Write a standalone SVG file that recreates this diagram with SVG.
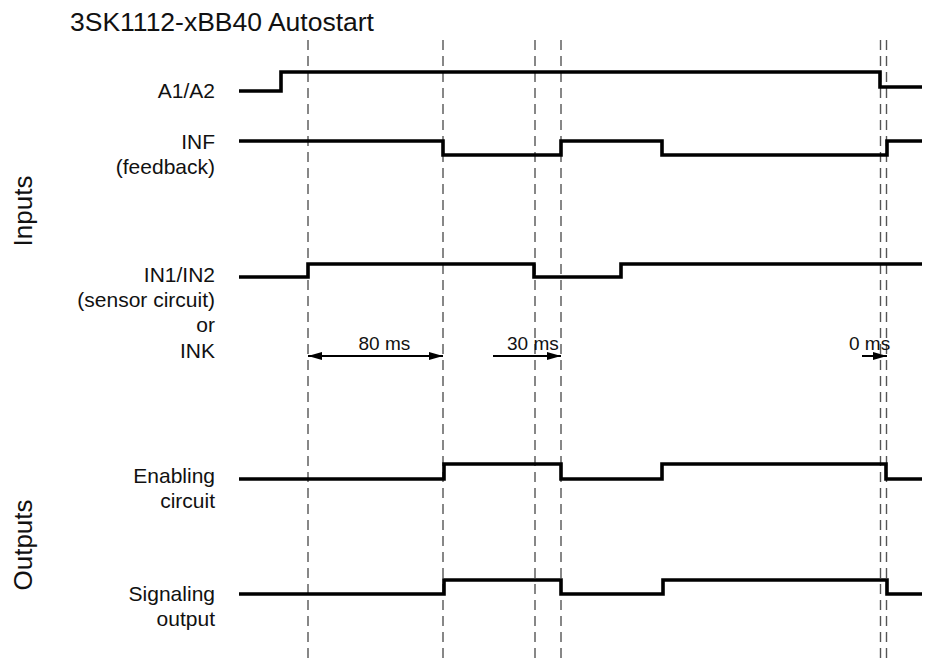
<svg xmlns="http://www.w3.org/2000/svg" width="950" height="658" viewBox="0 0 950 658">
<style>
.t{font-family:"Liberation Sans",Arial,sans-serif;fill:#111}
.lbl{font-size:21px;text-anchor:end}
.ms{font-size:19px}
.dash{stroke:#555;stroke-width:1.4;stroke-dasharray:10 6;fill:none}
.sig{stroke:#000;stroke-width:3.6;fill:none;stroke-linejoin:miter;stroke-linecap:butt}
.arr{stroke:#000;stroke-width:2;fill:none}
</style>
<defs>
<marker id="ah" viewBox="0 0 14 8" refX="14" refY="4" markerWidth="14" markerHeight="8" markerUnits="userSpaceOnUse" orient="auto-start-reverse">
<path d="M0,0 L14,4 L0,8 Z" fill="#000"/>
</marker>
</defs>
<rect width="950" height="658" fill="#fff"/>
<text class="t" x="70" y="31" font-size="26.5">3SK1112-xBB40 Autostart</text>
<g id="grid">
<line class="dash" x1="308" y1="40" x2="308" y2="658"/>
<line class="dash" x1="443" y1="40" x2="443" y2="658"/>
<line class="dash" x1="535" y1="40" x2="535" y2="658"/>
<line class="dash" x1="561" y1="40" x2="561" y2="658"/>
<line class="dash" x1="880.5" y1="40" x2="880.5" y2="658"/>
<line class="dash" x1="886.5" y1="40" x2="886.5" y2="658"/>
</g>
<text class="t" font-size="26" text-anchor="middle" transform="translate(32,211) rotate(-90)">Inputs</text>
<text class="t" font-size="26" text-anchor="middle" transform="translate(32,545) rotate(-90)">Outputs</text>
<g id="a1a2">
<text class="t lbl" x="215" y="98">A1/A2</text>
<path class="sig" d="M239,91 H281 V72 H880 V87 H922"/>
</g>
<g id="inf">
<text class="t lbl" x="215" y="148.5">INF</text>
<text class="t lbl" x="215" y="173.5">(feedback)</text>
<path class="sig" d="M239,141 H443 V155 H561 V141 H662 V155 H887 V141 H922"/>
</g>
<g id="in12">
<text class="t lbl" x="215" y="281.5">IN1/IN2</text>
<text class="t lbl" x="215" y="306.8">(sensor circuit)</text>
<text class="t lbl" x="215" y="332">or</text>
<text class="t lbl" x="215" y="357.5">INK</text>
<path class="sig" d="M239,277 H308 V264 H534 V277 H621 V264 H922"/>
</g>
<g id="enable">
<text class="t lbl" x="215" y="482.5">Enabling</text>
<text class="t lbl" x="215" y="507.5">circuit</text>
<path class="sig" d="M239,479 H444 V464 H561 V479 H662 V464 H886 V479 H922"/>
</g>
<g id="signal">
<text class="t lbl" x="215" y="601">Signaling</text>
<text class="t lbl" x="215" y="626">output</text>
<path class="sig" d="M239,594 H444 V580 H561 V594 H663 V580 H887 V594 H922"/>
</g>
<g id="connectors">
<line class="arr" x1="308" y1="356" x2="443" y2="356" marker-start="url(#ah)" marker-end="url(#ah)"/>
<line class="arr" x1="493" y1="356" x2="561" y2="356" marker-end="url(#ah)"/>
<line class="arr" x1="862" y1="356" x2="887" y2="356" marker-end="url(#ah)"/>
<text class="t ms" x="358.5" y="350">80 ms</text>
<text class="t ms" x="507" y="350">30 ms</text>
<text class="t ms" x="849" y="350">0 ms</text>
</g>
</svg>
